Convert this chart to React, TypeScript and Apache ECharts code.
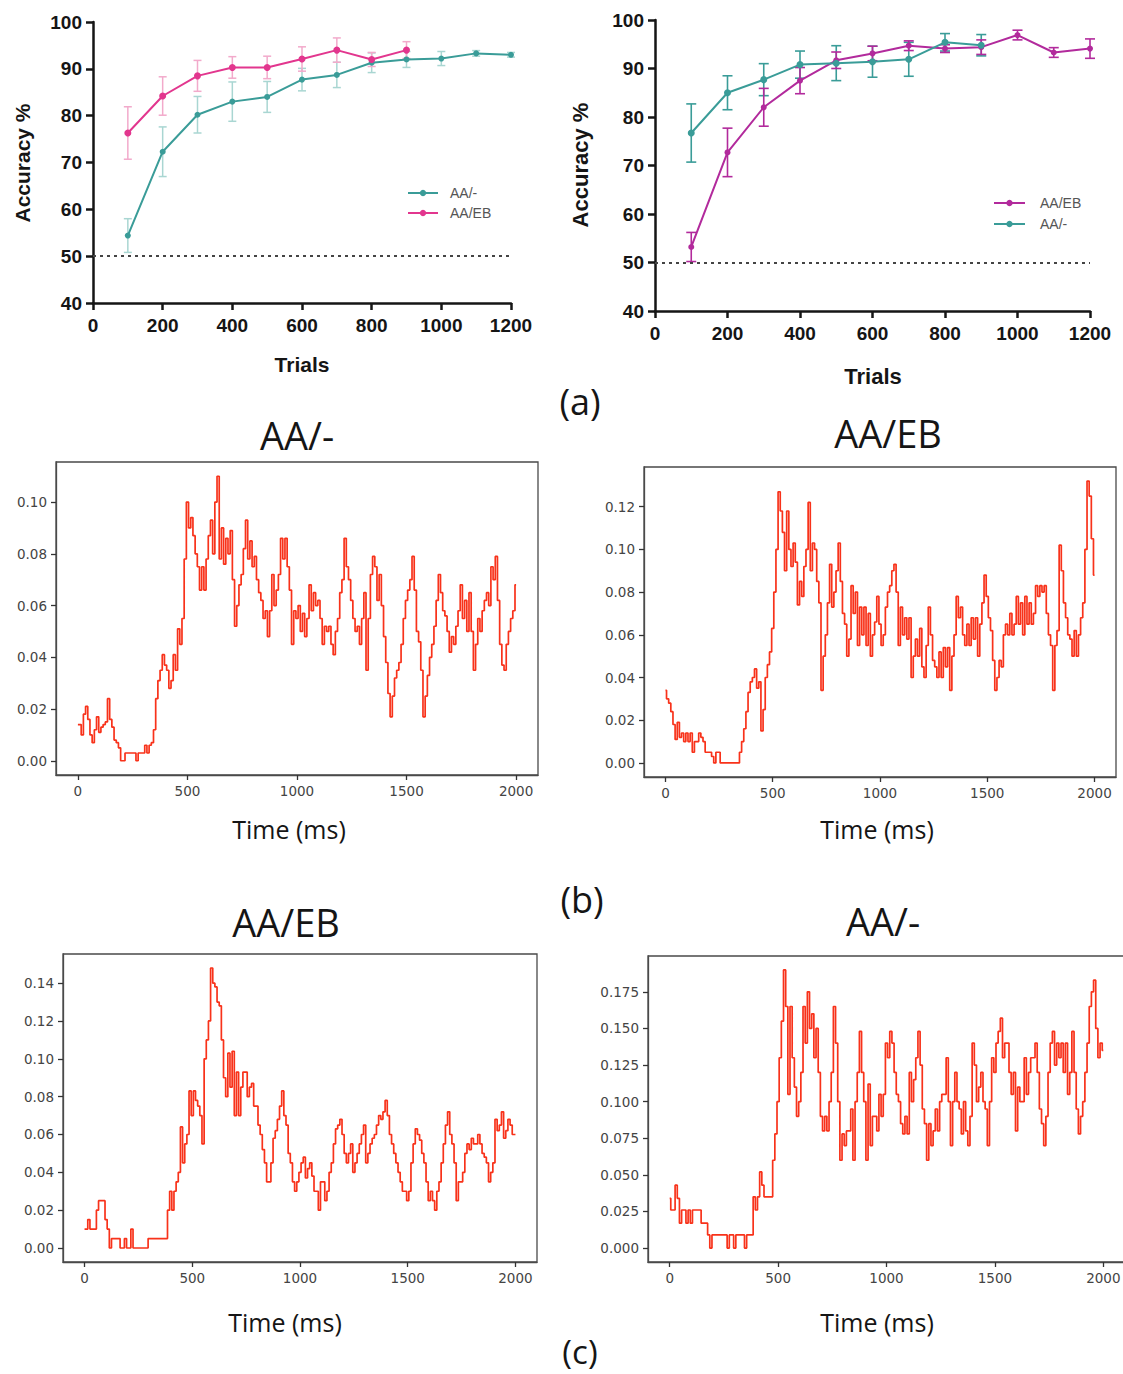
import React, { useEffect, useRef } from "react";
import * as echarts from "echarts";

// ---------- (a) accuracy curves ----------
const trials = [100, 200, 300, 400, 500, 600, 700, 800, 900, 1000, 1100, 1200];
const p1AAminus = [54.4, 72.3, 80.2, 83.0, 84.0, 87.7, 88.7, 91.3, 92.0, 92.2, 93.3, 93.0];
const p1AAminusErr = [3.6, 5.3, 3.9, 4.2, 3.3, 2.4, 2.7, 2.1, 1.7, 1.5, 0.6, 0.5];
const p1AAEB = [76.3, 84.2, 88.5, 90.3, 90.3, 92.1, 94.0, 92.0, 94.0];
const p1AAEBErr = [5.6, 4.1, 3.3, 2.3, 2.4, 2.6, 2.6, 1.5, 1.8];
const p2AAEB = [53.2, 72.7, 82.0, 87.5, 91.7, 93.1, 94.7, 94.1, 94.4, 96.9, 93.3, 94.1];
const p2AAEBErr = [3.0, 5.0, 3.9, 2.7, 1.7, 1.5, 1.0, 0.8, 1.5, 1.0, 1.0, 2.0];
const p2AAminus = [76.7, 85.0, 87.7, 90.8, 91.1, 91.4, 91.9, 95.4, 94.8];
const p2AAminusErr = [6.0, 3.5, 3.3, 2.8, 3.6, 3.2, 3.5, 1.8, 2.2];

// ---------- (b), (c) time courses, sampled every 10 ms from 0 to 2000 ms ----------
const timeMs: number[] = [];
for (let t = 0; t <= 2000; t += 10) timeMs.push(t);
const timeTicks = [0, 500, 1000, 1500, 2000];

const bLeft = [
  .014, .014, .010, .018, .021, .016, .010, .007, .012, .017,
  .011, .013, .014, .015, .024, .016, .013, .008, .007, .005,
  .000, .000, .003, .003, .003, .003, .003, .000, .003, .003,
  .003, .006, .003, .006, .007, .012, .024, .031, .035, .041,
  .037, .035, .028, .031, .041, .035, .051, .045, .055, .078,
  .100, .090, .094, .087, .080, .075, .066, .075, .066, .078,
  .087, .093, .080, .100, .110, .078, .090, .076, .086, .080,
  .089, .070, .052, .060, .068, .072, .082, .093, .078, .085,
  .075, .079, .070, .065, .062, .055, .058, .048, .058, .072,
  .060, .066, .072, .086, .078, .086, .075, .066, .045, .058,
  .055, .060, .050, .057, .048, .055, .068, .058, .065, .060,
  .062, .055, .045, .052, .050, .052, .045, .041, .050, .055,
  .065, .070, .086, .075, .070, .062, .055, .050, .052, .045,
  .055, .065, .035, .055, .072, .079, .075, .062, .072, .060,
  .048, .038, .026, .017, .025, .032, .035, .038, .045, .055,
  .062, .066, .070, .079, .066, .050, .046, .035, .017, .025,
  .033, .040, .045, .052, .062, .072, .065, .058, .056, .050,
  .042, .048, .045, .052, .058, .068, .055, .062, .050, .065,
  .050, .035, .045, .055, .050, .058, .062, .065, .060, .075,
  .070, .079, .062, .045, .037, .035, .045, .050, .055, .058,
  .068,
];

const bRight = [
  .034, .030, .028, .024, .018, .011, .019, .012, .014, .010,
  .014, .010, .014, .005, .010, .010, .014, .012, .010, .005,
  .005, .005, .003, .000, .005, .005, .000, .000, .000, .000,
  .000, .000, .000, .000, .000, .005, .010, .016, .024, .033,
  .038, .040, .044, .035, .038, .015, .025, .040, .046, .052,
  .063, .080, .100, .127, .118, .108, .090, .118, .100, .092,
  .103, .094, .074, .085, .078, .092, .100, .122, .090, .103,
  .100, .085, .075, .034, .050, .060, .075, .093, .073, .080,
  .090, .103, .085, .070, .065, .050, .058, .083, .070, .080,
  .055, .073, .060, .073, .055, .070, .050, .060, .066, .078,
  .065, .055, .060, .073, .080, .083, .090, .093, .080, .055,
  .073, .060, .068, .058, .068, .040, .050, .058, .050, .063,
  .045, .040, .055, .073, .060, .048, .045, .040, .052, .040,
  .054, .045, .054, .034, .050, .060, .078, .068, .073, .060,
  .055, .065, .055, .068, .058, .068, .050, .065, .075, .088,
  .078, .068, .062, .048, .034, .040, .048, .045, .060, .065,
  .060, .070, .060, .065, .078, .065, .075, .060, .078, .065,
  .075, .065, .070, .083, .078, .083, .080, .083, .070, .060,
  .055, .034, .055, .062, .102, .090, .075, .068, .060, .058,
  .050, .062, .050, .060, .068, .075, .100, .132, .125, .105,
  .088,
];

const cLeft = [
  .010, .010, .015, .010, .010, .010, .020, .025, .025, .025,
  .015, .010, .000, .005, .005, .005, .005, .000, .000, .005,
  .000, .000, .010, .000, .000, .000, .000, .000, .000, .000,
  .005, .005, .005, .005, .005, .005, .005, .005, .005, .020,
  .030, .020, .030, .035, .040, .064, .045, .055, .060, .083,
  .070, .083, .078, .075, .070, .055, .100, .110, .120, .148,
  .140, .138, .130, .128, .110, .090, .080, .103, .085, .104,
  .070, .093, .070, .085, .093, .093, .080, .085, .087, .075,
  .075, .065, .060, .052, .045, .035, .035, .045, .058, .062,
  .068, .075, .083, .070, .065, .050, .045, .035, .030, .035,
  .040, .045, .048, .037, .042, .045, .038, .030, .030, .020,
  .035, .035, .025, .030, .040, .045, .055, .063, .065, .068,
  .060, .050, .045, .050, .055, .040, .045, .050, .055, .060,
  .065, .045, .050, .055, .058, .060, .065, .070, .068, .072,
  .078, .070, .060, .055, .050, .045, .040, .035, .030, .030,
  .025, .030, .045, .055, .063, .060, .057, .050, .045, .035,
  .025, .030, .025, .020, .030, .035, .045, .055, .065, .072,
  .060, .055, .045, .025, .035, .035, .040, .050, .055, .052,
  .058, .055, .055, .060, .055, .050, .048, .045, .035, .040,
  .045, .068, .062, .065, .072, .058, .062, .068, .065, .060,
  .060,
];

const cRight = [
  .034, .026, .026, .043, .034, .017, .026, .026, .017, .026,
  .017, .026, .026, .026, .026, .017, .017, .017, .009, .000,
  .009, .009, .009, .009, .009, .009, .009, .000, .009, .009,
  .000, .009, .009, .009, .009, .000, .009, .009, .009, .035,
  .026, .035, .052, .043, .035, .035, .035, .035, .060, .078,
  .100, .130, .155, .190, .165, .105, .165, .130, .110, .090,
  .100, .120, .165, .140, .175, .150, .160, .130, .150, .120,
  .090, .080, .090, .080, .100, .120, .165, .140, .100, .060,
  .078, .070, .080, .080, .095, .060, .100, .120, .148, .120,
  .100, .060, .112, .070, .090, .090, .080, .105, .090, .105,
  .140, .130, .148, .140, .120, .105, .100, .085, .078, .090,
  .078, .120, .100, .115, .130, .148, .125, .095, .085, .060,
  .085, .070, .080, .095, .080, .100, .105, .105, .130, .100,
  .070, .100, .120, .100, .095, .078, .100, .080, .070, .090,
  .140, .125, .100, .110, .120, .100, .095, .070, .100, .130,
  .120, .140, .148, .157, .130, .140, .140, .120, .105, .120,
  .080, .110, .100, .100, .130, .105, .120, .130, .130, .140,
  .120, .095, .085, .070, .090, .120, .140, .148, .125, .140,
  .130, .140, .120, .140, .105, .120, .148, .120, .095, .078,
  .090, .100, .120, .140, .165, .175, .183, .150, .130, .140,
  .135,
];

const tickB = [0, 0.02, 0.04, 0.06, 0.08, 0.1];
const tickBR = [0, 0.02, 0.04, 0.06, 0.08, 0.1, 0.12];
const tickCL = [0, 0.02, 0.04, 0.06, 0.08, 0.1, 0.12, 0.14];
const tickCR = [0, 0.025, 0.05, 0.075, 0.1, 0.125, 0.15, 0.175, 0.2];

// ---------- styling ----------
const TEAL = "#3a9c98";
const TEAL_ERR = "#a9d6d2";
const PINK = "#e2368e";
const PINK_ERR = "#f2aacb";
const PURPLE = "#b22a9c";
const RED = "#f8321a";
const ARIAL = "'Liberation Sans', Arial, sans-serif";
const SANS = "'Open Sans', 'Noto Sans', sans-serif";
const MPL = "'DejaVu Sans', sans-serif";

const pairs = (xs: number[], ys: number[]) => ys.map((v, i) => [xs[i], v]);
const plain = (v: number) => String(v);

function topX(gi: number) {
  return {
    type: "value", gridIndex: gi, min: 0, max: 1200, interval: 200,
    axisLine: { show: true, onZero: false, lineStyle: { color: "#151515", width: 2.5 } },
    axisTick: { show: true, inside: false, length: 7, lineStyle: { color: "#151515", width: 2.5 } },
    axisLabel: { color: "#151515", fontWeight: "bold", fontSize: 19, fontFamily: ARIAL, margin: 13, formatter: plain },
    splitLine: { show: false },
  };
}
function topY(gi: number) {
  return {
    type: "value", gridIndex: gi, min: 40, max: 100, interval: 10,
    axisLine: { show: true, onZero: false, lineStyle: { color: "#151515", width: 2.5 } },
    axisTick: { show: true, inside: false, length: 7, lineStyle: { color: "#151515", width: 2.5 } },
    axisLabel: { color: "#151515", fontWeight: "bold", fontSize: 19, fontFamily: ARIAL, margin: 11, formatter: plain },
    splitLine: { show: false },
  };
}
const frameLine = { show: true, onZero: false, lineStyle: { color: "#4a4a4a", width: 1.3 } };
function botX(gi: number) {
  return {
    type: "value", gridIndex: gi, min: -100, max: 2100, position: "bottom",
    axisLine: frameLine,
    axisTick: { show: true, inside: false, length: 5, customValues: timeTicks, lineStyle: { color: "#333", width: 1.3 } },
    axisLabel: { customValues: timeTicks, color: "#444", fontSize: 13.5, fontFamily: MPL, margin: 9, formatter: plain },
    splitLine: { show: false },
  };
}
function botY(gi: number, min: number, max: number, ticks: number[], digits: number) {
  return {
    type: "value", gridIndex: gi, min, max, position: "left",
    axisLine: frameLine,
    axisTick: { show: true, inside: false, length: 5, customValues: ticks, lineStyle: { color: "#333", width: 1.3 } },
    axisLabel: {
      customValues: ticks, color: "#444", fontSize: 13.5, fontFamily: MPL, margin: 9,
      formatter: (v: number) => v.toFixed(digits),
    },
    splitLine: { show: false },
  };
}

function lineSeries(name: string, gi: number, ys: number[], color: string, size: number, withRef: boolean) {
  const s: any = {
    name, type: "line", xAxisIndex: gi, yAxisIndex: gi,
    data: pairs(trials, ys),
    symbol: "circle", symbolSize: size, showSymbol: true,
    lineStyle: { color, width: 2 }, itemStyle: { color },
    z: 3,
  };
  if (withRef) {
    s.markLine = {
      silent: true, symbol: "none", label: { show: false },
      lineStyle: { type: [3, 4], color: "#444", width: 2 },
      data: [{ yAxis: 50 }],
    };
  }
  return s;
}

function errSeries(gi: number, ys: number[], es: number[], color: string, cap: number, width: number) {
  return {
    type: "custom", xAxisIndex: gi, yAxisIndex: gi, silent: true, z: 2,
    encode: { x: 0, y: [1, 2] },
    data: ys.map((v, i) => [trials[i], v - es[i], v + es[i]]),
    renderItem: (_p: any, api: any) => {
      const x = api.value(0);
      const a = api.coord([x, api.value(1)]);
      const b = api.coord([x, api.value(2)]);
      const style = { stroke: color, lineWidth: width, fill: "none" };
      return {
        type: "group",
        children: [
          { type: "line", shape: { x1: a[0], y1: a[1], x2: b[0], y2: b[1] }, style },
          { type: "line", shape: { x1: a[0] - cap, y1: a[1], x2: a[0] + cap, y2: a[1] }, style },
          { type: "line", shape: { x1: b[0] - cap, y1: b[1], x2: b[0] + cap, y2: b[1] }, style },
        ],
      };
    },
  };
}

function traceSeries(gi: number, ys: number[]) {
  return {
    type: "line", xAxisIndex: gi, yAxisIndex: gi, data: pairs(timeMs, ys),
    step: "middle",
    showSymbol: false, symbol: "none", lineStyle: { color: RED, width: 1.7 }, z: 3,
  };
}

function txt(text: string, x: number, y: number, font: string, rot = 0, color = "#151515") {
  return {
    type: "text", x, y, rotation: rot, silent: true,
    style: { text, font, fill: color, align: "center", verticalAlign: "middle" },
  };
}

const gridBase = { containLabel: false, outerBoundsMode: "none" };
const boxGrid = { ...gridBase, show: true, borderColor: "#4a4a4a", borderWidth: 1.3, backgroundColor: "transparent" };

const option: any = {
  animation: false,
  backgroundColor: "#ffffff",
  grid: [
    { ...gridBase, left: 93, top: 22, width: 418, height: 281 },
    { ...gridBase, left: 655, top: 20, width: 435, height: 291 },
    { ...boxGrid, left: 56, top: 462, width: 482, height: 313 },
    { ...boxGrid, left: 644, top: 467, width: 472, height: 310 },
    { ...boxGrid, left: 63, top: 954, width: 474, height: 308 },
    { ...boxGrid, left: 648, top: 956, width: 477, height: 306 },
  ],
  xAxis: [topX(0), topX(1), botX(2), botX(3), botX(4), botX(5)],
  yAxis: [
    topY(0), topY(1),
    botY(2, -0.0055, 0.1155, tickB, 2),
    botY(3, -0.0066, 0.1386, tickBR, 2),
    botY(4, -0.0074, 0.1554, tickCL, 2),
    botY(5, -0.0095, 0.1995, tickCR, 3),
  ],
  legend: [
    {
      data: ["AA/-", "AA/EB"], orient: "vertical", left: 402, top: 181,
      itemWidth: 30, itemHeight: 8, itemGap: 6, selectedMode: false,
      formatter: (n: string) => n.trim(),
      textStyle: { color: "#555", fontSize: 14, fontFamily: ARIAL, padding: [0, 0, 0, 7] },
    },
    {
      data: ["AA/EB ", "AA/- "], orient: "vertical", left: 988, top: 191,
      itemWidth: 31, itemHeight: 8, itemGap: 7, selectedMode: false,
      formatter: (n: string) => n.trim(),
      textStyle: { color: "#555", fontSize: 14, fontFamily: ARIAL, padding: [0, 0, 0, 10] },
    },
  ],
  series: [
    errSeries(0, p1AAminus, p1AAminusErr, TEAL_ERR, 4, 1.5),
    errSeries(0, p1AAEB, p1AAEBErr, PINK_ERR, 4, 1.5),
    lineSeries("AA/-", 0, p1AAminus, TEAL, 6, true),
    lineSeries("AA/EB", 0, p1AAEB, PINK, 7, false),
    errSeries(1, p2AAminus, p2AAminusErr, TEAL, 5, 1.6),
    errSeries(1, p2AAEB, p2AAEBErr, PURPLE, 5, 1.6),
    lineSeries("AA/EB ", 1, p2AAEB, PURPLE, 6, true),
    lineSeries("AA/- ", 1, p2AAminus, TEAL, 7, false),
    traceSeries(2, bLeft),
    traceSeries(3, bRight),
    traceSeries(4, cLeft),
    traceSeries(5, cRight),
  ],
  graphic: [
    txt("Accuracy %", 22, 163, `bold 21px ${ARIAL}`, Math.PI / 2),
    txt("Trials", 302, 364, `bold 21px ${ARIAL}`),
    txt("Accuracy %", 580, 165, `bold 22px ${ARIAL}`, Math.PI / 2),
    txt("Trials", 873, 376, `bold 22px ${ARIAL}`),
    txt("(a)", 580, 401, `36px ${SANS}`),
    txt("AA/-", 297, 435, `38px ${SANS}`),
    txt("AA/EB", 888, 433, `38px ${SANS}`),
    txt("Time (ms)", 289, 829, `25px ${SANS}`),
    txt("Time (ms)", 877, 829, `25px ${SANS}`),
    txt("(b)", 582, 899, `36px ${SANS}`),
    txt("AA/EB", 286, 922, `38px ${SANS}`),
    txt("AA/-", 883, 921, `38px ${SANS}`),
    txt("Time (ms)", 285, 1322, `25px ${SANS}`),
    txt("Time (ms)", 877, 1322, `25px ${SANS}`),
    txt("(c)", 580, 1351, `33px ${SANS}`),
  ],
};

export default function App() {
  const ref = useRef<HTMLDivElement>(null);
  useEffect(() => {
    const chart = echarts.init(ref.current!, null, { renderer: "svg" });
    chart.setOption(option);
    return () => chart.dispose();
  }, []);
  return (
    <div
      ref={ref}
      style={{ position: "absolute", left: 0, top: 0, width: 1123, height: 1374, background: "#fff" }}
    />
  );
}
